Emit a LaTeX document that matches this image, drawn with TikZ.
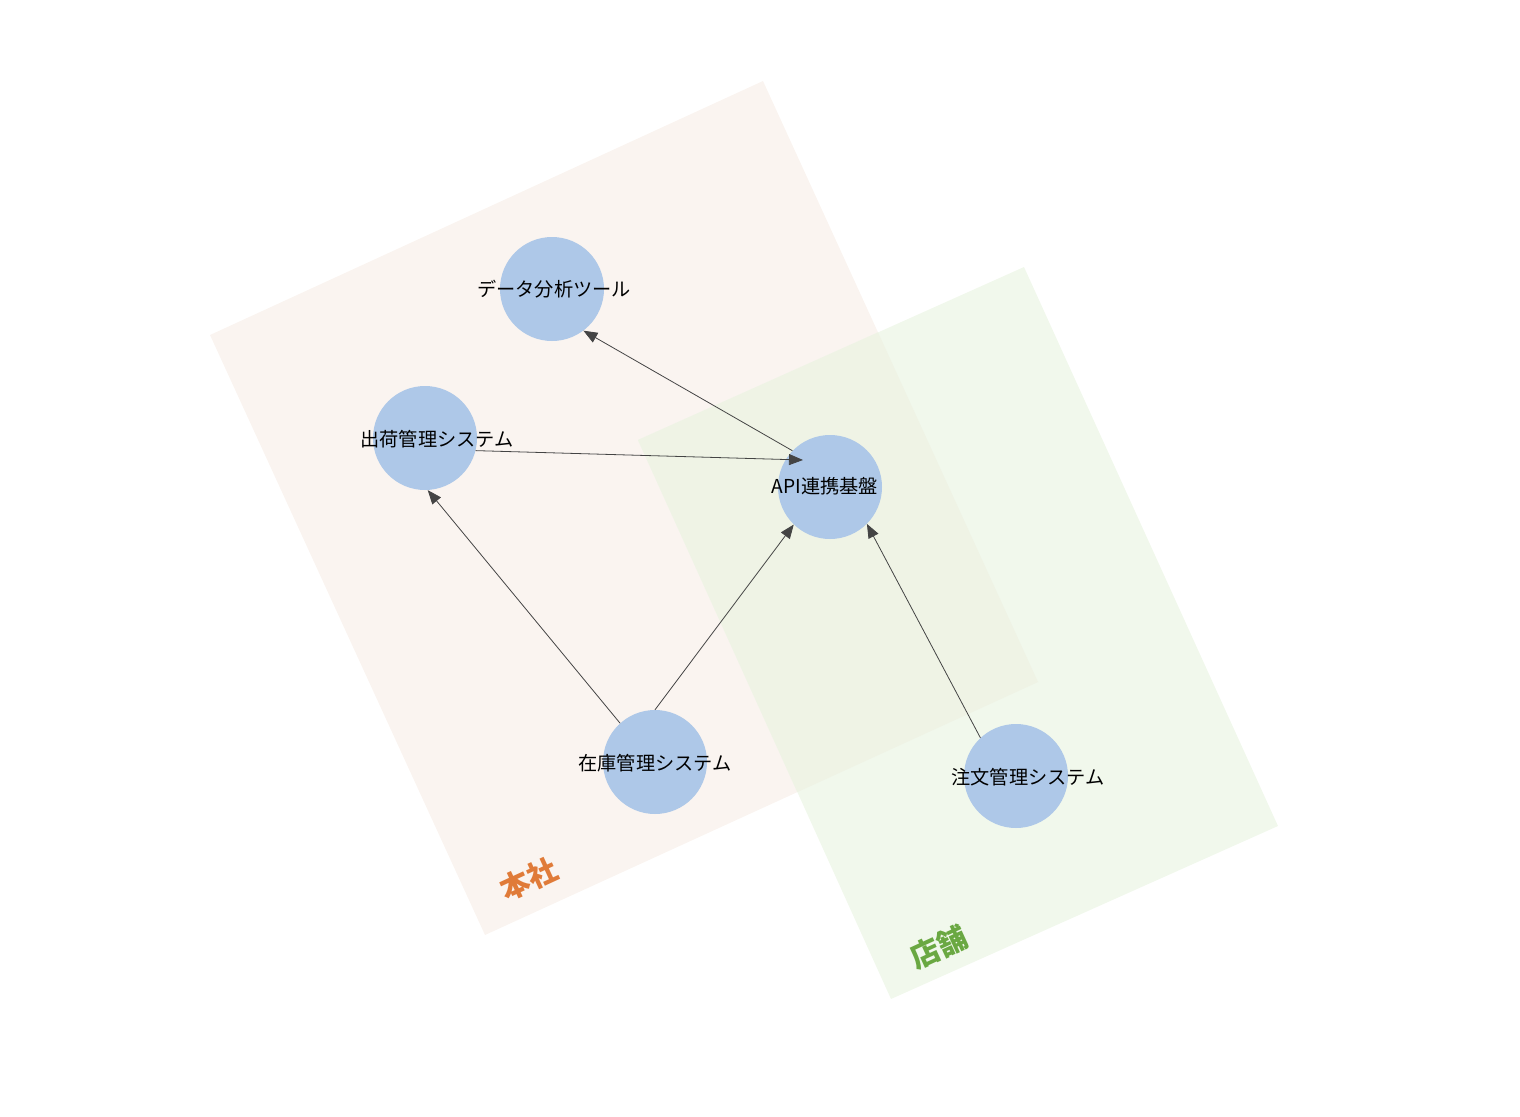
\documentclass[tikz,border=0pt]{standalone}
\usepackage{fontspec}
\setmainfont{Noto Sans CJK JP}
\usetikzlibrary{arrows.meta,calc}
\definecolor{nodeblue}{HTML}{AEC8E8}
\definecolor{hqorange}{HTML}{E07B39}
\definecolor{shopgreen}{HTML}{6AA842}
\definecolor{edgegray}{HTML}{444444}
\definecolor{hqfill}{HTML}{FAF4F0}
\definecolor{shopfill}{HTML}{F1F8EC}
\definecolor{bothfill}{HTML}{EFF3E5}
\tikzset{
  sysnode/.style={circle,fill=nodeblue,minimum size=104pt,inner sep=0pt},
  systext/.style={font=\fontsize{19.2}{23}\selectfont,text=black},
  flow/.style={draw=edgegray,line width=0.8pt,-{Triangle[length=14pt,width=11pt]}},
  grouplabel/.style={font=\fontsize{29.5}{34}\selectfont\bfseries,rotate=24.7},
}
\begin{document}
\begin{tikzpicture}[x=1pt,y=-1pt]
\useasboundingbox (0,0) rectangle (1520,1116);
% groups
\def\hqpoly{(210,335) -- (763,81) -- (1038,682) -- (485,935) -- cycle}
\def\shoppoly{(638,440) -- (1024,267) -- (1278,826) -- (891,999) -- cycle}
\fill[hqfill] \hqpoly;
\fill[shopfill] \shoppoly;
\begin{scope}
\clip \hqpoly;
\fill[bothfill] \shoppoly;
\end{scope}
\node[grouplabel,text=hqorange] (hq) at (529,879) {本社};
\node[grouplabel,text=shopgreen] (shop) at (939,947) {店舗};
% nodes
\node[sysnode] (data) at (552,289) {};
\node[systext] (datat) at ($(data.center)+(2,0)$) {データ分析ツール};
\node[sysnode] (ship) at (425,438) {};
\node[systext] (shipt) at ($(ship.center)+(12,1)$) {出荷管理システム};
\node[sysnode] (api) at (830,487) {};
\node[systext] (apit) at ($(api.center)+(-5,-1)$) {API連携基盤};
\node[sysnode] (stock) at (655,762) {};
\node[systext] (stockt) at ($(stock.center)+(0,1)$) {在庫管理システム};
\node[sysnode] (order) at (1016,776) {};
\node[systext] (ordert) at ($(order.center)+(12,1)$) {注文管理システム};
\coordinate (apiin) at ($(api.center)+(-27,-27)$);
% edges
\draw[flow] (api.136) -- (data.-53);
\draw[flow] (ship.-14) -- (apiin);
\draw[flow] (stock.132) -- (ship.-87);
\draw[flow] (stock.90) -- (api.-134);
\draw[flow] (order.133) -- (api.-45);
\end{tikzpicture}
\end{document}
